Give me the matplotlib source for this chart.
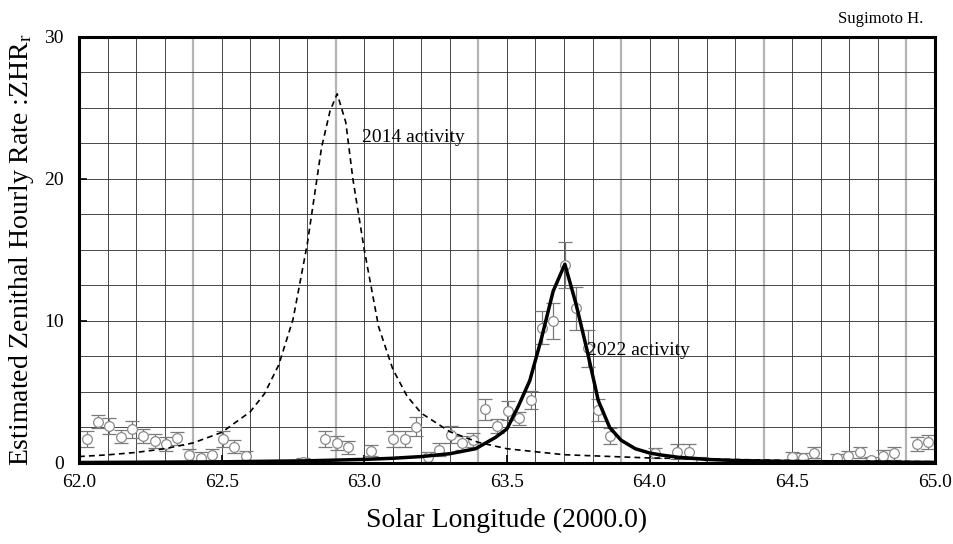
import matplotlib
matplotlib.use("Agg")
import matplotlib.pyplot as plt
from matplotlib.ticker import MultipleLocator

plt.rcParams['font.family'] = ['Liberation Serif', 'DejaVu Serif']
plt.rcParams['mathtext.fontset'] = 'custom'
plt.rcParams['mathtext.rm'] = 'Liberation Serif'
plt.rcParams['mathtext.it'] = 'Liberation Serif'

# Observed ZHR (2022)
obs_x = [62.027, 62.066, 62.106, 62.146, 62.185, 62.225, 62.266, 62.305, 62.345, 62.387,
         62.427, 62.465, 62.504, 62.544, 62.584, 62.784, 62.862, 62.903, 62.942, 63.023,
         63.102, 63.143, 63.181, 63.222, 63.262, 63.303, 63.343, 63.382, 63.423, 63.464,
         63.503, 63.542, 63.583, 63.624, 63.662, 63.703, 63.742, 63.783, 63.820, 63.861,
         64.019, 64.097, 64.139, 64.179, 64.498, 64.537, 64.576, 64.656, 64.697, 64.737,
         64.775, 64.817, 64.858, 64.936, 64.974]
obs_y = [1.67, 2.91, 2.60, 1.85, 2.37, 1.90, 1.55, 1.34, 1.74, 0.56,
         0.37, 0.56, 1.67, 1.15, 0.49, 0.05, 1.67, 1.39, 1.10, 0.87,
         1.69, 1.69, 2.56, 0.40, 0.92, 1.97, 1.39, 1.62, 3.78, 2.60,
         3.69, 3.15, 4.44, 9.53, 10.00, 13.94, 10.89, 8.08, 3.73, 1.90,
         0.68, 0.80, 0.80, 0.10, 0.44, 0.33, 0.73, 0.33, 0.49, 0.75,
         0.20, 0.49, 0.68, 1.34, 1.50]
obs_err = [0.55, 0.47, 0.59, 0.47, 0.59, 0.47, 0.50, 0.50, 0.47, 0.40,
           0.40, 0.40, 0.55, 0.45, 0.35, 0.30, 0.55, 0.50, 0.45, 0.40,
           0.55, 0.55, 0.65, 0.35, 0.45, 0.60, 0.50, 0.50, 0.73, 0.47,
           0.65, 0.45, 0.62, 1.15, 1.30, 1.65, 1.50, 1.30, 0.77, 0.55,
           0.35, 0.55, 0.55, 0.30, 0.35, 0.35, 0.40, 0.30, 0.35, 0.40,
           0.25, 0.40, 0.45, 0.50, 0.50]

# 2014 activity model curve
c2014_x = [62.0, 62.1, 62.2, 62.3, 62.4, 62.5, 62.6, 62.65, 62.7, 62.75, 62.8, 62.85,
           62.88, 62.905, 62.935, 62.96, 63.0, 63.05, 63.1, 63.15, 63.2, 63.3, 63.4,
           63.5, 63.7, 64.0, 64.5, 65.0]
c2014_y = [0.45, 0.57, 0.74, 1.0, 1.41, 2.15, 3.6, 4.87, 6.9, 10.1, 15.4, 22.2,
           24.8, 26.0, 24.0, 20.0, 15.0, 9.6, 6.6, 4.7, 3.5, 2.2, 1.45,
           1.0, 0.58, 0.35, 0.17, 0.09]

# 2022 activity model curve
c2022_x = [62.0, 62.5, 62.8, 63.0, 63.1, 63.2, 63.3, 63.39, 63.46, 63.50, 63.54, 63.58,
           63.62, 63.662, 63.703, 63.742, 63.78, 63.82, 63.86, 63.90, 63.95, 64.0,
           64.04, 64.1, 64.2, 64.3, 64.5, 65.0]
c2022_y = [0.03, 0.08, 0.15, 0.25, 0.33, 0.45, 0.65, 1.0, 1.8, 2.4, 4.0, 5.8,
           8.7, 12.1, 14.0, 11.2, 8.0, 4.4, 2.5, 1.6, 1.0, 0.7,
           0.56, 0.4, 0.25, 0.17, 0.10, 0.04]

fig = plt.figure(figsize=(9.54, 5.44), dpi=100)
ax = fig.add_axes([0.0828, 0.149, 0.8972, 0.783])

ax.set_xlim(62.0, 65.0)
ax.set_ylim(0, 30)

# grid: dark every 0.1, light gray at 62.4, 62.9, ...
for i in range(31):
    xv = 62.0 + 0.1 * i
    gray = (i % 5 == 4)
    ax.axvline(xv, color='#b4b4b4' if gray else '#3a3a3a',
               lw=1.6 if gray else 0.65, zorder=1)
for j in range(1, 12):
    ax.axhline(2.5 * j, color='#3a3a3a', lw=0.65, zorder=1)

eb = ax.errorbar(obs_x, obs_y, yerr=obs_err, fmt='o', ms=7, mfc='white', mec='#8a8a8a',
                 mew=0.9, ecolor='#7a7a7a', elinewidth=0.9, capsize=5, capthick=0.9,
                 zorder=3, clip_on=True)
for cap in eb[1]:
    cap.set_color('#555555')

ax.plot(c2014_x, c2014_y, color='black', lw=1.2, ls=(0, (3.5, 2.5)), zorder=4)
ax.plot(c2022_x, c2022_y, color='black', lw=2.5, zorder=5)

ax.text(62.992, 22.9, '2014 activity', fontsize=14, va='center', ha='left', zorder=6)
ax.text(63.782, 7.9, '2022 activity', fontsize=14, va='center', ha='left', zorder=6)

ax.yaxis.set_major_locator(MultipleLocator(10))
ax.set_xticks([62.0, 62.5, 63.0, 63.5, 64.0, 64.5, 65.0])
ax.set_xticklabels(['62.0', '62.5', '63.0', '63.5', '64.0', '64.5', '65.0'])
ax.tick_params(axis='both', direction='in', length=6, width=1.2, labelsize=14,
               top=False, right=False)
ax.tick_params(axis='x', pad=8)
ax.tick_params(axis='y', pad=11)

for s in ax.spines.values():
    s.set_linewidth(2.2)
    s.set_zorder(7)

ax.set_xlabel('Solar Longitude (2000.0)', fontsize=20, labelpad=12)
ax.set_ylabel('Estimated Zenithal Hourly Rate :ZHR$_{\\rm r}$', fontsize=20, labelpad=6)

fig.text(0.968, 0.965, 'Sugimoto H.', fontsize=12, ha='right', va='center')

fig.savefig('out.png', dpi=100)
